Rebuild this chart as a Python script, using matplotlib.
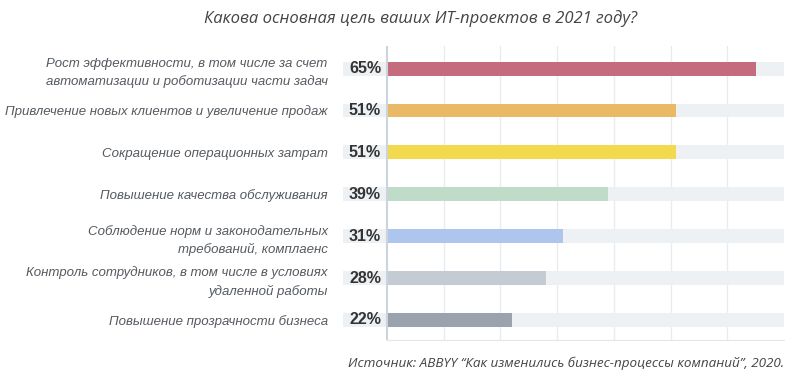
import matplotlib
matplotlib.use("Agg")
import matplotlib.pyplot as plt

categories = [
    "Рост эффективности, в том числе за счет\nавтоматизации и роботизации части задач",
    "Привлечение новых клиентов и увеличение продаж",
    "Сокращение операционных затрат",
    "Повышение качества обслуживания",
    "Соблюдение норм и законодательных\nтребований, комплаенс",
    "Контроль сотрудников, в том числе в условиях\nудаленной работы",
    "Повышение прозрачности бизнеса",
]
values = [65, 51, 51, 39, 31, 28, 22]
colors = ["#c46c7d", "#e9b965", "#f2d94e", "#bfdcc8", "#aec6ee", "#c5cbd3", "#9aa2ad"]

title = "Какова основная цель ваших ИТ-проектов в 2021 году?"
source = "Источник: ABBYY “Как изменились бизнес-процессы компаний”, 2020."

x_max = 70
label_box = 7.75  # grey box for the percent label, left of zero

fig = plt.figure(figsize=(8, 3.76), dpi=100)
ax = fig.add_axes([343 / 800, 1 - 340 / 376, (784 - 343) / 800, 294 / 376])

ypos = list(range(len(values)))
h = 0.33
# background tracks incl. label box
ax.barh(ypos, [x_max + label_box] * len(values), left=-label_box, height=h,
        color="#eef1f4", zorder=1)
ax.barh(ypos, values, height=h, color=colors, zorder=2)

for y, v in zip(ypos, values):
    ax.text(-label_box / 2, y, f"{v}%", ha="center", va="center",
            fontsize=11.5, fontweight="bold", color="#333333",
            family=["Liberation Sans", "DejaVu Sans"], zorder=3)

ax.set_xlim(-label_box, x_max)
ax.set_ylim(len(values) - 0.52, -0.54)

ax.set_xticks(range(10, 70, 10))
ax.xaxis.grid(True, color="#e9ecef", linewidth=1)
ax.set_axisbelow(True)
ax.tick_params(axis="x", length=0, labelbottom=False)

ax.set_yticks(ypos)
ax.set_yticklabels(categories, fontsize=9.5, style="italic", color="#555a60",
                   family=["Liberation Sans", "DejaVu Sans"], linespacing=1.55)
ax.tick_params(axis="y", length=0, pad=11)

for side in ("top", "right", "left"):
    ax.spines[side].set_visible(False)
ax.spines["bottom"].set_bounds(0, x_max)
ax.spines["bottom"].set_color("#e3e7ec")
ax.axvline(0, color="#ccd3dc", linewidth=1.5, zorder=4)

fig.text(421 / 800, 1 - 19 / 376, title, ha="center", va="center",
         fontsize=12, style="italic", color="#444444", family="Open Sans")
fig.text(784 / 800, 1 - 363 / 376, source, ha="right", va="center",
         fontsize=9.7, style="italic", color="#444444", family="Open Sans")

fig.savefig("out.png", dpi=100)
plt.close(fig)
